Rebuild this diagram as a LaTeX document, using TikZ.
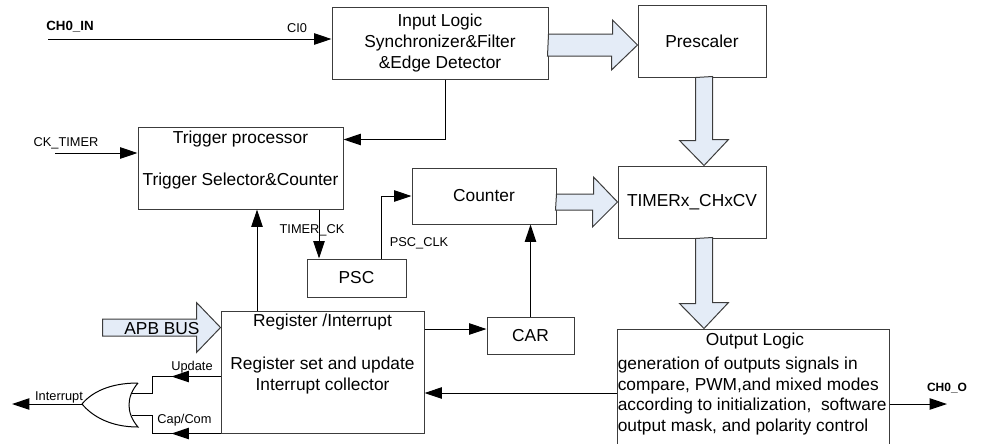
\documentclass[tikz,border=0pt]{standalone}
\usepackage{fontspec}
\setmainfont{Liberation Sans}
\definecolor{busfill}{RGB}{228,236,247}
\definecolor{edge}{RGB}{60,60,60}
\usetikzlibrary{arrows.meta,positioning,calc}

\begin{document}
\begin{tikzpicture}[x=0.75pt,y=-0.75pt,
  blk/.style={draw=edge,line width=0.75pt,inner sep=0pt,align=center,font=\fontsize{13}{15.75}\selectfont},
  txt/.style={inner sep=0pt,align=center,font=\fontsize{13}{15.75}\selectfont},
  lbl/.style={inner sep=0pt,font=\fontsize{9.6}{11}\selectfont},
  pin/.style={inner sep=0pt,font=\fontsize{10}{12}\selectfont\bfseries},
  sig/.style={line width=0.75pt,-{Triangle[length=13pt,width=8.5pt]}},
  wire/.style={line width=0.75pt},
  fat/.style={draw=edge,line width=0.75pt,fill=busfill}]
  \useasboundingbox (0,0) rectangle (987,443);

  % blocks
  \node[blk,minimum width=162pt,minimum height=54pt] (inlog) at (440,43) {Input Logic\\Synchronizer\&Filter\\\&Edge Detector};
  \node[blk,minimum width=96pt,minimum height=54pt] (presc) at (702,41) {Prescaler};
  \node[blk,minimum width=153.75pt,minimum height=61.5pt] (trig) at (240.5,168) {};
  \node[blk,minimum width=108pt,minimum height=42pt] (cnt) at (484,196) {Counter};
  \node[blk,minimum width=111pt,minimum height=54pt] (tmr) at (692,202) {TIMERx\_CHxCV};
  \node[blk,minimum width=74.25pt,minimum height=28.5pt] (psc) at (356.5,278) {PSC};
  \node[blk,minimum width=65.25pt,minimum height=27.75pt] (car) at (530.5,335.5) {CAR};
  \node[blk,minimum width=152.25pt,minimum height=91.5pt] (reg) at (322.5,372) {};
  \node[blk,minimum width=204pt,minimum height=87.75pt] (outl) at (753,387.5) {};

  \node[txt] (trigtxt) at ($(trig.center)+(0,-8)$) {Trigger processor\\[15.75pt]Trigger Selector\&Counter};
  \node[txt] (regtxt) at ($(reg.center)+(0,-18)$) {Register /Interrupt\\[16.5pt]Register set and update\\Interrupt collector};
  \node[txt] (outtitle) at ($(outl.north)+(2,13)$) {Output Logic};
  \node[txt,align=left,anchor=west,font=\fontsize{13}{15.5}\selectfont] (outtxt) at ($(outl.west)+(1,8.5)$)
    {generation of outputs signals in\\compare, PWM,and mixed modes\\according to initialization,\ \ software\\output mask, and polarity control};

  % bus arrows
  \coordinate (a1) at ($(presc.west)+(0,4)$);
  \draw[fat] (a1 -| inlog.east) ++(0,-11) -- ++(64,0) -- ++(0,-14) -- (a1) -- ++(-26,25) -- ++(0,-14) -- ++(-64,0) -- cycle;
  \coordinate (a2) at ($(presc.south)+(2,0)$);
  \draw[fat] (a2) ++(-8.5,0) -- ++(0,63) -- ++(-16,0) -- (a2 |- tmr.north) -- ++(24.5,-26) -- ++(-16,0) -- ++(0,-63) -- cycle;
  \draw[fat] (tmr.west -| cnt.east) ++(0,-8) -- ++(37,0) -- ++(0,-17) -- (tmr.west) -- ++(-25,25) -- ++(0,-17) -- ++(-37,0) -- cycle;
  \coordinate (a4) at ($(tmr.south)+(12,0)$);
  \draw[fat] (a4) ++(-8.5,0) -- ++(0,65) -- ++(-16,0) -- (a4 |- outl.north) -- ++(24.5,-26) -- ++(-16,0) -- ++(0,-65) -- cycle;
  \coordinate (apb) at ($(reg.north west)+(0,17)$);
  \draw[fat] (apb) ++(-118,-8.5) -- ++(94,0) -- ++(0,-16.5) -- (apb) -- ++(-24,25) -- ++(0,-16.5) -- ++(-94,0) -- cycle;
  \node[txt] (apbtxt) at (162,329) {APB BUS};

  % signals
  \coordinate (chin) at (48,39);
  \draw[sig] (chin) -- (chin -| inlog.west);
  \node[pin] (chinlbl) at (70,27) {CH0\_IN};
  \node[lbl] (cilbl) at (297,28) {CI0};
  \coordinate (cktm) at (55,153);
  \draw[sig] (cktm) -- (cktm -| trig.west);
  \node[lbl] (cklbl) at (66,143) {CK\_TIMER};
  \draw[sig] ($(inlog.south)+(5,0)$) |- ($(trig.north east)+(0,13)$);
  \draw[sig] ($(reg.north)+(-65.5,0)$) coordinate (rup) -- (rup |- trig.south);
  \draw[sig] ($(trig.south)+(78.5,0)$) coordinate (tck) -- (tck |- psc.north);
  \node[lbl] (tcklbl) at (312,230) {TIMER\_CK};
  \draw[sig] ($(psc.north)+(24.5,0)$) |- (cnt.west);
  \node[lbl] (pclbl) at (419,243) {PSC\_CLK};
  \draw[sig] (car.north) -- (car.north |- cnt.south);
  \coordinate (cw) at ($(car.west)+(0,-6.5)$);
  \draw[sig] (reg.east |- cw) -- (cw);
  \draw[sig] ($(outl.west)+(0,5.5)$) coordinate (ow) -- (ow -| reg.east);
  \coordinate (cho) at (947,404);
  \draw[sig] (cho -| outl.east) -- (cho);
  \node[pin,font=\fontsize{9}{11}\selectfont\bfseries] (cholbl) at (947,388) {CH0\_O};

  % or gate
  \coordinate (g1) at (131.5,393);
  \coordinate (g2) at (131.5,415);
  \coordinate (gout) at (82,404);
  \coordinate (irq) at (12,404);
  \draw[wire] (138,383) .. controls (126,397) and (126,413) .. (138,427)
    .. controls (110,427) and (92,416) .. (gout)
    .. controls (92,392) and (110,383) .. (138,383);
  \coordinate (upd) at ($(reg.north west)+(0,66)$);
  \draw[wire] (upd) -| ($(g1)+(20.5,0)$) -- (g1);
  \draw[sig] (upd) -- ++(-49,0);
  \node[lbl] (updlbl) at (192,367) {Update};
  \draw[wire] (reg.south west) -| ($(g2)+(20.5,0)$) -- (g2);
  \draw[sig] (reg.south west) -- ++(-49,0);
  \node[lbl] (caplbl) at (184.5,420) {Cap/Com};
  \draw[sig] (gout) -- (irq);
  \node[lbl,anchor=south] (irqlbl) at (59,403) {Interrupt};
\end{tikzpicture}
\end{document}
